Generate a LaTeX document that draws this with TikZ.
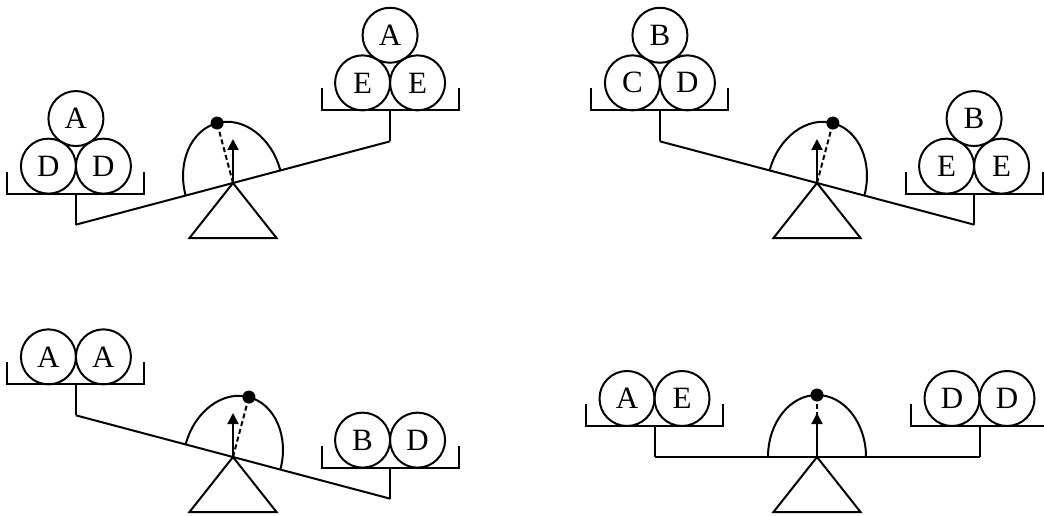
\documentclass[tikz,border=0pt]{standalone}
\usepackage{fontspec}
\setmainfont{Liberation Serif}
\usetikzlibrary{arrows.meta}
\tikzset{ball/.style={circle, draw, inner sep=0pt, minimum size=27.5pt, font=\fontsize{15.5}{15.5}\selectfont}}

\begin{document}
\begin{tikzpicture}[x=0.5pt, y=0.5pt, line width=1pt] %%% one unit = one pixel of the 1044x515 frame
      \useasboundingbox (0,0) rectangle (1044,515);
      %%% four balances: number / pivot x / pivot y / tilt of the beam
      \foreach \n/\px/\py/\a in {1/233/332/14.85, 2/817/332/-14.85, 3/233/58/-14.85, 4/817/58/0}{
        \begin{scope}[shift={(\px,\py)}]
          \coordinate (piv\n) at (0,0);
          \coordinate (bl\n) at (\a+180:162.5);
          \coordinate (br\n) at (\a:162.5);
          \coordinate (dot\n) at (\a+90:62);
          \coordinate (tip\n) at (0,44);
          \draw (bl\n) -- (br\n); %%% beam
          \draw (bl\n) -- ++(0,31) coordinate (pl\n); %%% hangers
          \draw (br\n) -- ++(0,31) coordinate (pr\n);
          \draw ([shift={(-68.5,22)}]pl\n) -- ++(0,-22) -- ++(137,0) -- ++(0,22); %%% pans
          \draw ([shift={(-68.5,22)}]pr\n) -- ++(0,-22) -- ++(137,0) -- ++(0,22);
          \draw[rotate=\a] (49,0) arc[start angle=0, end angle=180, x radius=49, y radius=62]; %%% dial
          \fill (dot\n) circle[radius=6.5];
          \draw[dash pattern=on 2.5pt off 1.5pt] (piv\n) -- (dot\n);
          \draw[-{Triangle[length=5.5pt, width=5.5pt]}] (piv\n) -- (tip\n);
          \draw (piv\n) -- ++(-43.5,-55) -- ++(87,0) -- cycle; %%% stand
        \end{scope}
      }
      %%% balls in the pans
      \node[ball] (b1la) at ([shift={(-27.5,27.5)}]pl1) {D};
      \node[ball] (b1lb) at ([shift={(27.5,27.5)}]pl1) {D};
      \node[ball] (b1lc) at ([shift={(0,75.1)}]pl1) {A};
      \node[ball] (b1ra) at ([shift={(-27.5,27.5)}]pr1) {E};
      \node[ball] (b1rb) at ([shift={(27.5,27.5)}]pr1) {E};
      \node[ball] (b1rc) at ([shift={(0,75.1)}]pr1) {A};
      \node[ball] (b2la) at ([shift={(-27.5,27.5)}]pl2) {C};
      \node[ball] (b2lb) at ([shift={(27.5,27.5)}]pl2) {D};
      \node[ball] (b2lc) at ([shift={(0,75.1)}]pl2) {B};
      \node[ball] (b2ra) at ([shift={(-27.5,27.5)}]pr2) {E};
      \node[ball] (b2rb) at ([shift={(27.5,27.5)}]pr2) {E};
      \node[ball] (b2rc) at ([shift={(0,75.1)}]pr2) {B};
      \node[ball] (b3la) at ([shift={(-27.5,27.5)}]pl3) {A};
      \node[ball] (b3lb) at ([shift={(27.5,27.5)}]pl3) {A};
      \node[ball] (b3ra) at ([shift={(-27.5,27.5)}]pr3) {B};
      \node[ball] (b3rb) at ([shift={(27.5,27.5)}]pr3) {D};
      \node[ball] (b4la) at ([shift={(-27.5,27.5)}]pl4) {A};
      \node[ball] (b4lb) at ([shift={(27.5,27.5)}]pl4) {E};
      \node[ball] (b4ra) at ([shift={(-27.5,27.5)}]pr4) {D};
      \node[ball] (b4rb) at ([shift={(27.5,27.5)}]pr4) {D};
    \end{tikzpicture}
\end{document}
